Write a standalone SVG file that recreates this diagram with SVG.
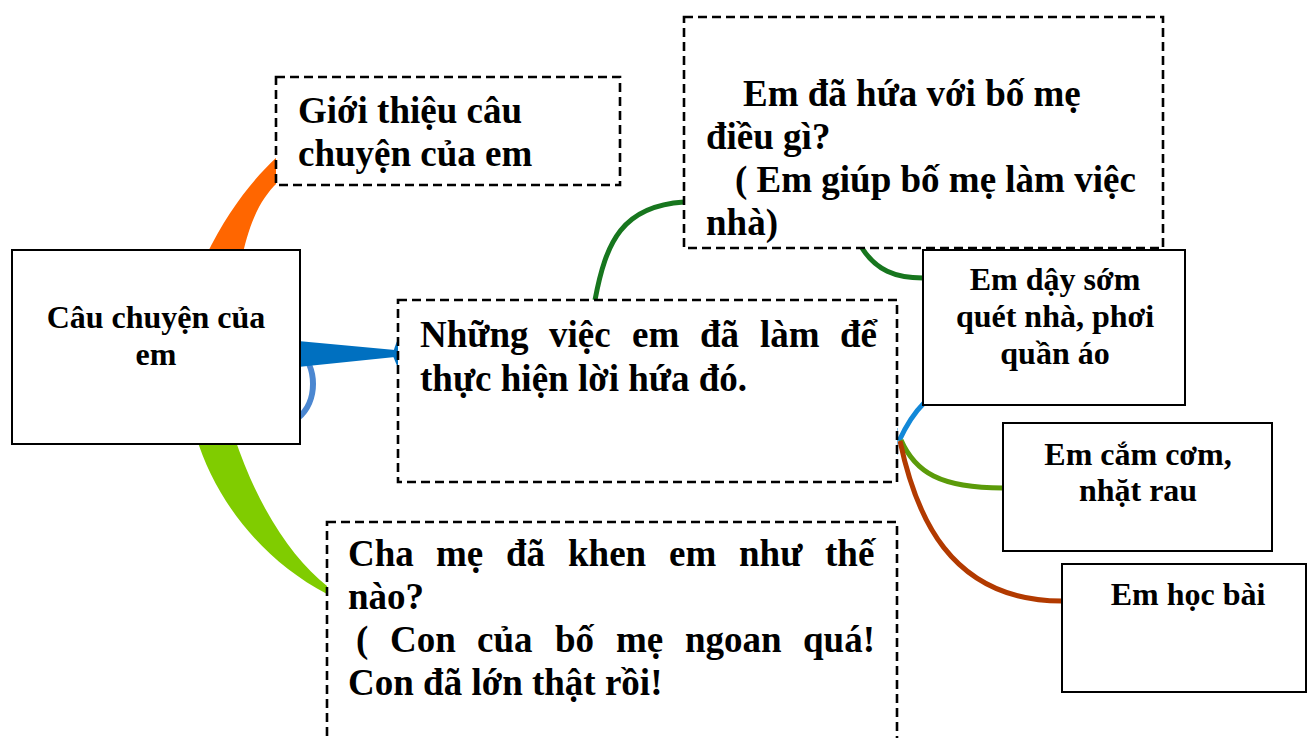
<svg xmlns="http://www.w3.org/2000/svg" width="1307" height="738" viewBox="0 0 1307 738">
<style>
.solid{fill:#fff;stroke:#000;stroke-width:2}
.dash{fill:#fff;stroke:#000;stroke-width:2.6;stroke-dasharray:9 5}
.t{font-family:"Liberation Serif","Times New Roman",serif;font-weight:bold;fill:#000}
.big{font-size:37px}
.sm{font-size:32px}
.c{text-anchor:middle}
.line{fill:none;stroke-width:5;stroke-linecap:butt}
</style>
<rect width="1307" height="738" fill="#fff"/>
<g id="connectors">
  <path d="M203 262 C225 215 250 182 277 157 L277 183 C262 198 250 218 241 262 Z" fill="#ff6600"/>
  <path d="M196 436 C215 500 262 560 327 594 L327 586 C292 558 258 508 234 436 Z" fill="#80cc00"/>
  <path d="M298 350 C318 366 318 402 298 418" fill="none" stroke="#4b87d1" stroke-width="6"/>
  <path d="M298 341 L395 350 L395 357 L298 367 Z" fill="#0070c0"/>
  <path d="M393 353 Q396 342 400 335 L400 372 Q396 364 393 356 Z" fill="#0070c0"/>
  <path class="line" d="M595 300 C606 242 622 206 684 202" stroke="#17761e"/>
  <path class="line" d="M862 248 C876 270 895 278 923 278" stroke="#17761e"/>
  <path class="line" d="M899 441 C905 428 912 415 924 403" stroke="#1288d8"/>
  <path class="line" d="M901 440 C915 472 940 488 1003 488" stroke="#5b9b0a"/>
  <path d="M1003 472 L1003 505" stroke="#5b9b0a" stroke-width="2"/>
  <path class="line" d="M900 441 C915 512 948 601 1062 601" stroke="#b23a00"/>
  <path d="M896 428 L896 455" stroke="#1288d8" stroke-width="3"/>
</g>
<g id="node-center">
  <rect class="solid" x="12" y="250" width="288" height="194"/>
  <text class="t sm c" x="156" y="328">Câu chuyện của</text>
  <text class="t sm c" x="156" y="365">em</text>
</g>
<g id="node-intro">
  <rect class="dash" x="276" y="77" width="344" height="108"/>
  <text class="t big" x="298" y="123">Giới thiệu câu</text>
  <text class="t big" x="298" y="166">chuyện của em</text>
</g>
<g id="node-promise">
  <rect class="dash" x="684" y="17" width="479" height="231"/>
  <text class="t big" x="743" y="106">Em đã hứa với bố mẹ</text>
  <text class="t big" x="706" y="149">điều gì?</text>
  <text class="t big" x="735" y="192">( Em giúp bố mẹ làm việc</text>
  <text class="t big" x="706" y="235">nhà)</text>
</g>
<g id="node-actions">
  <rect class="dash" x="398" y="300" width="499" height="182"/>
  <text class="t big" y="347"><tspan x="420">Những</tspan> <tspan x="549">việc</tspan> <tspan x="632">em</tspan> <tspan x="700">đã</tspan> <tspan x="760">làm</tspan> <tspan x="840">để</tspan></text>
  <text class="t big" x="420" y="391">thực hiện lời hứa đó.</text>
</g>
<g id="node-praise">
  <rect class="dash" x="327" y="522" width="570" height="230"/>
  <text class="t big" y="566"><tspan x="348">Cha</tspan> <tspan x="436">mẹ</tspan> <tspan x="506">đã</tspan> <tspan x="568">khen</tspan> <tspan x="669">em</tspan> <tspan x="739">như</tspan> <tspan x="825">thế</tspan></text>
  <text class="t big" x="348" y="609">nào?</text>
  <text class="t big" y="652"><tspan x="356">(</tspan> <tspan x="390">Con</tspan> <tspan x="477">của</tspan> <tspan x="555">bố</tspan> <tspan x="616">mẹ</tspan> <tspan x="685">ngoan</tspan> <tspan x="803">quá!</tspan></text>
  <text class="t big" x="348" y="695">Con đã lớn thật rồi!</text>
</g>
<g id="node-sweep">
  <rect class="solid" x="923" y="250" width="262" height="155"/>
  <text class="t sm c" x="1055" y="290">Em dậy sớm</text>
  <text class="t sm c" x="1055" y="327">quét nhà, phơi</text>
  <text class="t sm c" x="1055" y="364">quần áo</text>
</g>
<g id="node-cook">
  <rect class="solid" x="1003" y="423" width="269" height="128"/>
  <text class="t sm c" x="1138" y="465">Em cắm cơm,</text>
  <text class="t sm c" x="1138" y="501">nhặt rau</text>
</g>
<g id="node-study">
  <rect class="solid" x="1062" y="564" width="244" height="128"/>
  <text class="t sm c" x="1188" y="605">Em học bài</text>
</g>
</svg>
